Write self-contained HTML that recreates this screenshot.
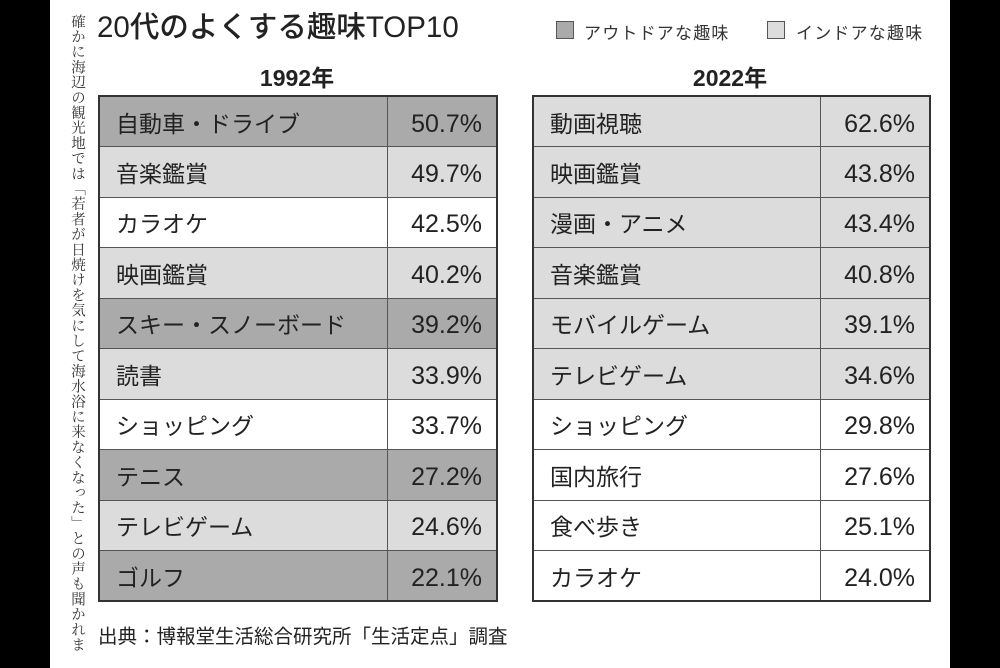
<!DOCTYPE html>
<html><head><meta charset="utf-8"><style>
*{margin:0;padding:0;box-sizing:border-box}
body{width:1000px;height:668px;background:#000;position:relative;overflow:hidden;font-family:"Liberation Sans","Noto Sans CJK JP",sans-serif;color:#222}
#page{position:absolute;left:50px;top:0;width:900px;height:668px;background:#fff}
.vt{position:absolute;left:69px;top:14px;writing-mode:vertical-rl;font-family:"Noto Serif CJK SC","Noto Sans CJK JP",serif;font-size:14.5px;line-height:18px;letter-spacing:0.7px;color:#333}
.title{position:absolute;left:97px;top:4px;font-size:29.5px;font-weight:500;color:#222}
.leg{position:absolute;top:19px;font-size:17px;color:#333;letter-spacing:1.2px}
.sw{position:absolute;top:21px;width:18px;height:18px;border:1.5px solid #555}
.yr{position:absolute;top:59px;font-size:23px;font-weight:bold;width:200px;text-align:center}
table{position:absolute;top:95px;border-collapse:collapse;border:2px solid #333}
td{height:50.5px;border:1px solid #555;font-size:23px;padding:0 0 0 16px;color:#222;vertical-align:middle}
td.p{text-align:right;padding:5px 14px 0 0;font-size:25px}
.d td{background:#aaaaaa}.l td{background:#dcdcdc}.w td{background:#fff}
.src{position:absolute;left:98px;top:620px;font-size:19.5px;color:#222}
</style></head><body>
<div id="page"></div>
<div class="vt">確かに海辺の観光地では「若者が日焼けを気にして海水浴に来なくなった」との声も聞かれま</div>
<div class="title">20代のよくする趣味TOP10</div>
<div class="sw" style="left:556px;background:#aaa"></div><div class="leg" style="left:584px">アウトドアな趣味</div>
<div class="sw" style="left:767px;background:#dcdcdc"></div><div class="leg" style="left:796px">インドアな趣味</div>
<div class="yr" style="left:197px">1992年</div>
<div class="yr" style="left:630px">2022年</div>
<table style="left:98px;width:400px">
<colgroup><col style="width:288px"><col></colgroup>
<tr class="d"><td>自動車・ドライブ</td><td class="p">50.7%</td></tr>
<tr class="l"><td>音楽鑑賞</td><td class="p">49.7%</td></tr>
<tr class="w"><td>カラオケ</td><td class="p">42.5%</td></tr>
<tr class="l"><td>映画鑑賞</td><td class="p">40.2%</td></tr>
<tr class="d"><td>スキー・スノーボード</td><td class="p">39.2%</td></tr>
<tr class="l"><td>読書</td><td class="p">33.9%</td></tr>
<tr class="w"><td>ショッピング</td><td class="p">33.7%</td></tr>
<tr class="d"><td>テニス</td><td class="p">27.2%</td></tr>
<tr class="l"><td>テレビゲーム</td><td class="p">24.6%</td></tr>
<tr class="d"><td>ゴルフ</td><td class="p">22.1%</td></tr>
</table>
<table style="left:532px;width:399px">
<colgroup><col style="width:287px"><col></colgroup>
<tr class="l"><td>動画視聴</td><td class="p">62.6%</td></tr>
<tr class="l"><td>映画鑑賞</td><td class="p">43.8%</td></tr>
<tr class="l"><td>漫画・アニメ</td><td class="p">43.4%</td></tr>
<tr class="l"><td>音楽鑑賞</td><td class="p">40.8%</td></tr>
<tr class="l"><td>モバイルゲーム</td><td class="p">39.1%</td></tr>
<tr class="l"><td>テレビゲーム</td><td class="p">34.6%</td></tr>
<tr class="w"><td>ショッピング</td><td class="p">29.8%</td></tr>
<tr class="w"><td>国内旅行</td><td class="p">27.6%</td></tr>
<tr class="w"><td>食べ歩き</td><td class="p">25.1%</td></tr>
<tr class="w"><td>カラオケ</td><td class="p">24.0%</td></tr>
</table>
<div class="src">出典：博報堂生活総合研究所「生活定点」調査</div>
</body></html>
